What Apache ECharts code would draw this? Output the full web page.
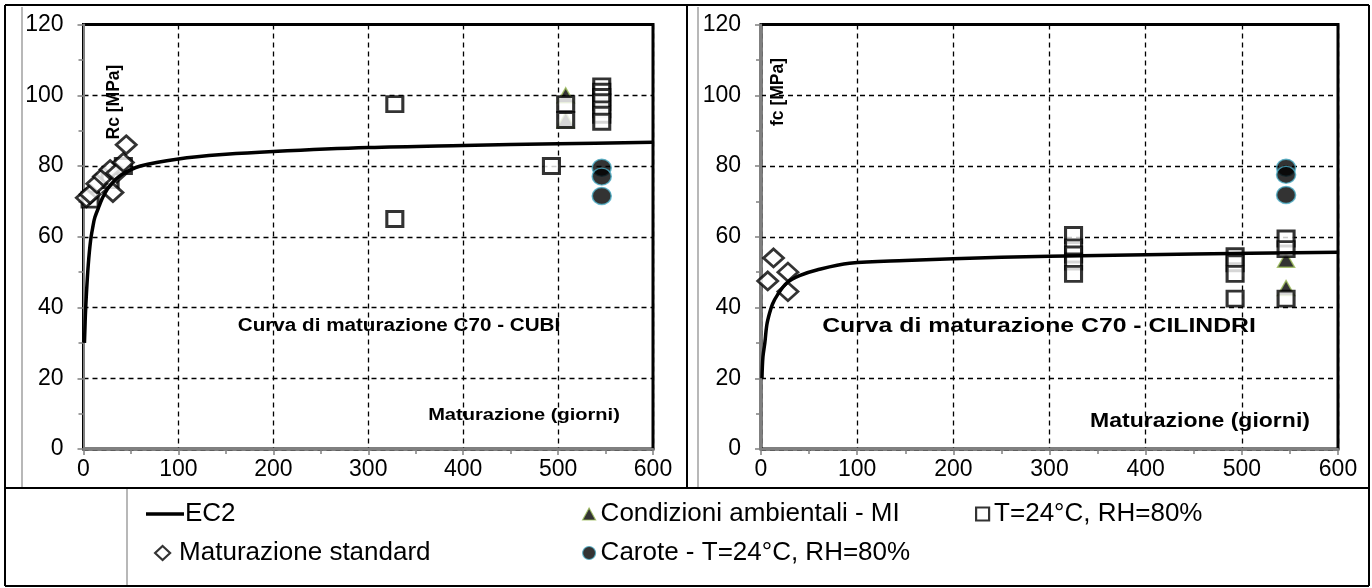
<!DOCTYPE html>
<html><head><meta charset="utf-8">
<script src="https://cdn.jsdelivr.net/npm/echarts@6/dist/echarts.min.js"></script>
<style>html,body{margin:0;padding:0;background:#fff}#c{width:1372px;height:588px}</style>
</head><body><div id="c"></div>
<script>
// ---- axis ticks ----
const xTicks = [0, 100, 200, 300, 400, 500, 600];
const yTicks = [0, 20, 40, 60, 80, 100, 120];

// ---- CUBI (left) ----
const ec2CubiT = [1, 1.5, 2, 3, 5, 7.5, 10, 12, 17, 20, 28, 40, 60, 100, 150, 200, 300, 400, 500, 600];
const ec2CubiV = [30, 34, 38, 43.5, 52, 59, 63, 65.5, 69, 71, 74.5, 77.5, 80, 82, 83.3, 84.1, 85.2, 85.8, 86.3, 86.7];
const stdCubiT = [3, 7, 14, 21, 28, 31, 35, 42, 45];
const stdCubiV = [71, 72, 75, 77, 79, 72.5, 78, 81, 86];
const ambCubiT = [508, 508];
const ambCubiV = [100, 93];
const t24CubiT = [7, 28, 42, 328, 328, 493, 508, 508, 546, 546, 546, 546, 546, 546, 546];
const t24CubiV = [70.5, 76, 80, 97.5, 65, 80, 97.5, 93, 102.5, 101, 99.5, 98, 96, 94.5, 92.5];
const carCubiT = [546, 546, 546];
const carCubiV = [79.5, 77, 71.5];

// ---- CILINDRI (right) ----
const ec2CilT = [1, 2, 4, 6, 9, 12, 17, 27, 40, 58, 92, 150, 250, 350, 450, 600];
const ec2CilV = [20, 26, 30, 35, 38.5, 41, 43.5, 47, 49, 50.6, 52.5, 53.3, 54.2, 54.7, 55.1, 55.6];
const stdCilT = [13, 7, 28, 28];
const stdCilV = [54, 47.5, 50, 44.5];
const ambCilT = [546, 546];
const ambCilV = [53.5, 45.5];
const t24CilT = [325, 325, 325, 325, 325, 493, 493, 493, 493, 546, 546, 546];
const t24CilV = [60.5, 57, 55, 53, 49.5, 54.5, 52.5, 49.5, 42.5, 59.5, 56.5, 42.5];
const carCilT = [546, 546, 546];
const carCilV = [79.5, 77.5, 71.8];

const zip = (a, b) => a.map((v, i) => [v, b[i]]);
const FONT = '"Liberation Sans", Arial, sans-serif';

const names = {
  ec2: 'EC2',
  std: 'Maturazione standard',
  amb: 'Condizioni ambientali - MI',
  t24: 'T=24°C, RH=80%',
  car: 'Carote - T=24°C, RH=80%'
};

function axisLabel(margin) {
  return { margin: margin, color: '#000', fontSize: 23, fontFamily: FONT };
}

function xAxis(idx) {
  return {
    gridIndex: idx, type: 'value', min: xTicks[0], max: xTicks[xTicks.length - 1], interval: 100,
    axisLine: { show: true, onZero: false, lineStyle: { color: '#808080', width: 2 } },
    axisTick: { show: true, inside: false, length: 6, lineStyle: { color: '#808080', width: 1.5 } },
    minorTick: { show: true, splitNumber: 2, length: 5, lineStyle: { color: '#808080', width: 1.5 } },
    axisLabel: axisLabel(9),
    splitLine: { show: true, lineStyle: { color: '#000', type: [5, 4], width: 1.3 } }
  };
}
function yAxis(idx) {
  return {
    gridIndex: idx, type: 'value', min: yTicks[0], max: yTicks[yTicks.length - 1], interval: 20,
    axisLine: { show: true, onZero: false, lineStyle: { color: '#808080', width: 2 } },
    axisTick: { show: true, inside: false, length: 6, lineStyle: { color: '#808080', width: 1.5 } },
    minorTick: { show: true, splitNumber: 2, length: 5, lineStyle: { color: '#808080', width: 1.5 } },
    axisLabel: axisLabel(20),
    splitLine: { show: true, lineStyle: { color: '#000', type: [5, 4], width: 1.3 } }
  };
}

const styles = {
  std: { symbol: 'diamond', symbolSize: [20, 18], itemStyle: { color: '#fff', borderColor: '#000', borderWidth: 2.8 } },
  amb: { symbol: 'triangle', symbolSize: [17, 15], itemStyle: { color: '#000', borderColor: '#9BBB59', borderWidth: 1.5 } },
  t24: { symbol: 'rect', symbolSize: [16, 15], itemStyle: { color: '#fff', borderColor: '#000', borderWidth: 3 } },
  car: { symbol: 'circle', symbolSize: [19, 17], itemStyle: { color: '#000', borderColor: '#4BACC6', borderWidth: 1.5 } }
};

function scat(key, g, t, v) {
  return Object.assign({ type: 'scatter', name: names[key], xAxisIndex: g, yAxisIndex: g, data: zip(t, v), z: 3 }, styles[key]);
}
function ec2(g, t, v) {
  return { type: 'line', name: names.ec2, xAxisIndex: g, yAxisIndex: g, data: zip(t, v), smooth: 0.35,
    showSymbol: false, symbol: 'none', lineStyle: { color: '#000', width: 3.5 }, itemStyle: { color: '#000' }, z: 5 };
}

const series = [
  scat('amb', 0, ambCubiT, ambCubiV),
  scat('t24', 0, t24CubiT, t24CubiV),
  scat('std', 0, stdCubiT, stdCubiV),
  scat('car', 0, carCubiT, carCubiV),
  ec2(0, ec2CubiT, ec2CubiV),
  scat('amb', 1, ambCilT, ambCilV),
  scat('t24', 1, t24CilT, t24CilV),
  scat('std', 1, stdCilT, stdCilV),
  scat('car', 1, carCilT, carCilV),
  ec2(1, ec2CilT, ec2CilV)
];

const LEG_TS = { color: '#000', fontSize: 26, fontFamily: FONT, lineHeight: 30 };
function leg(name, left, top, opts) {
  return Object.assign({
    data: [name], left: left, top: top, orient: 'horizontal', selectedMode: false, padding: 0,
    textStyle: LEG_TS, itemWidth: 12, itemHeight: 12
  }, opts || {});
}

const ROW1 = 514 - 15, ROW2 = 553 - 15;
const legends = [
  leg(names.ec2, 146, ROW1, { itemWidth: 38, itemHeight: 3.5, icon: 'rect', itemStyle: { color: '#000' }, textStyle: Object.assign({}, LEG_TS, { padding: [0, 0, 0, -4] }) }),
  leg(names.amb, 582, ROW1, { itemWidth: 13, itemHeight: 12, itemStyle: { borderWidth: 1.2 } }),
  leg(names.t24, 975, ROW1, { itemWidth: 13, itemHeight: 13, itemStyle: { borderWidth: 2.2 } }),
  leg(names.std, 154, ROW2, { itemWidth: 15, itemHeight: 14, itemStyle: { borderWidth: 2.2 }, textStyle: Object.assign({}, LEG_TS, { padding: [0, 0, 0, 4] }) }),
  leg(names.car, 582, ROW2, { itemWidth: 13, itemHeight: 13, itemStyle: { borderWidth: 1.2 } })
];

function line(x1, y1, x2, y2, color, w) {
  return { type: 'line', silent: true, z: 100, shape: { x1, y1, x2, y2 }, style: { stroke: color, lineWidth: w } };
}
function txt(text, x, y, size, rot, sx) {
  return { type: 'text', silent: true, z: 100, x: x, y: y, rotation: rot || 0, scaleX: sx || 1,
    style: { text: text, font: 'bold ' + size + 'px ' + FONT, fill: '#000', align: 'center', verticalAlign: 'middle' } };
}

const graphics = [
  line(5, 5, 1369, 5, '#000', 2),
  line(5, 5, 5, 586, '#000', 2),
  line(1369, 5, 1369, 586, '#000', 2),
  line(5, 586, 1369, 586, '#000', 2),
  line(5, 488, 1369, 488, '#000', 2),
  line(687, 5, 687, 488, '#000', 2),
  line(22, 7, 22, 487, '#a0a0a0', 1.5),
  line(698, 7, 698, 487, '#a0a0a0', 1.5),
  line(127, 489, 127, 585, '#a0a0a0', 1.5),
  txt('Curva di maturazione C70 - CUBI', 399, 326, 17.5, 0, 1.18),
  txt('Maturazione (giorni)', 524, 415, 17, 0, 1.18),
  txt('Rc [MPa]', 114, 102, 17.5, Math.PI / 2),
  txt('Curva di maturazione C70 - CILINDRI', 1039, 326, 21, 0, 1.18),
  txt('Maturazione (giorni)', 1200, 422, 19.5, 0, 1.18),
  txt('fc [MPa]', 778, 92, 17.5, Math.PI / 2)
];

const chart = echarts.init(document.getElementById('c'), null, { renderer: 'canvas' });
chart.setOption({
  animation: false,
  backgroundColor: '#fff',
  grid: [
    { left: 83.5, top: 24.5, width: 569.5, height: 424.5, show: true, borderColor: '#000', borderWidth: 3, backgroundColor: 'transparent', containLabel: false },
    { left: 761, top: 24.5, width: 577, height: 424.5, show: true, borderColor: '#000', borderWidth: 3, backgroundColor: 'transparent', containLabel: false }
  ],
  xAxis: [xAxis(0), xAxis(1)],
  yAxis: [yAxis(0), yAxis(1)],
  legend: legends,
  series: series,
  graphic: graphics
});
</script></body></html>
